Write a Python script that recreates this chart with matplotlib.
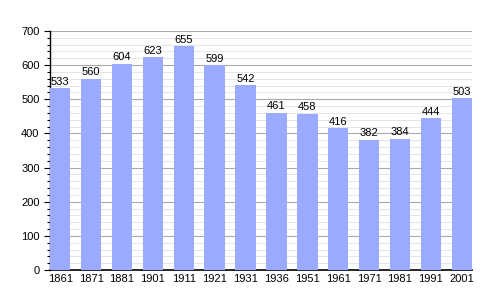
import matplotlib
matplotlib.use('Agg')
import matplotlib.pyplot as plt
import numpy as np

years = ['1861', '1871', '1881', '1901', '1911', '1921', '1931', '1936',
         '1951', '1961', '1971', '1981', '1991', '2001']
population = [533, 560, 604, 623, 655, 599, 542, 461, 458, 416, 382, 384, 444, 503]

plt.rcParams['font.family'] = ['Liberation Sans', 'DejaVu Sans']

fig = plt.figure(figsize=(5, 3), dpi=100)
ax = fig.add_axes([0.1, 0.1, 0.844, 0.797])

x = np.arange(len(years))
bars = ax.bar(x, population, width=0.66, color='#99aaff', zorder=3)
for xi, v in zip(x, population):
    ax.text(xi, v + 4, str(v), ha='center', va='bottom', fontsize=8, zorder=4)

ax.set_xlim(-0.33, len(years) - 1 + 0.33)
ax.set_ylim(0, 700)
ax.set_xticks(x)
ax.set_xticklabels(years, fontsize=8)
ax.set_yticks(np.arange(0, 701, 100))
ax.set_yticks(np.arange(0, 701, 20), minor=True)
ax.tick_params(axis='y', labelsize=8, length=4, width=0.8)
ax.tick_params(axis='y', which='minor', length=2, width=0.8)
ax.tick_params(axis='x', length=0, pad=3)

ax.grid(axis='y', which='major', color='#aaaaaa', linewidth=0.8, zorder=0)
ax.grid(axis='y', which='minor', color='#e0e0e0', linewidth=0.6, zorder=0)

for s in ['top', 'right']:
    ax.spines[s].set_visible(False)
ax.spines['left'].set_linewidth(1.0)
ax.spines['bottom'].set_linewidth(1.2)

fig.savefig('out.png', dpi=100)
